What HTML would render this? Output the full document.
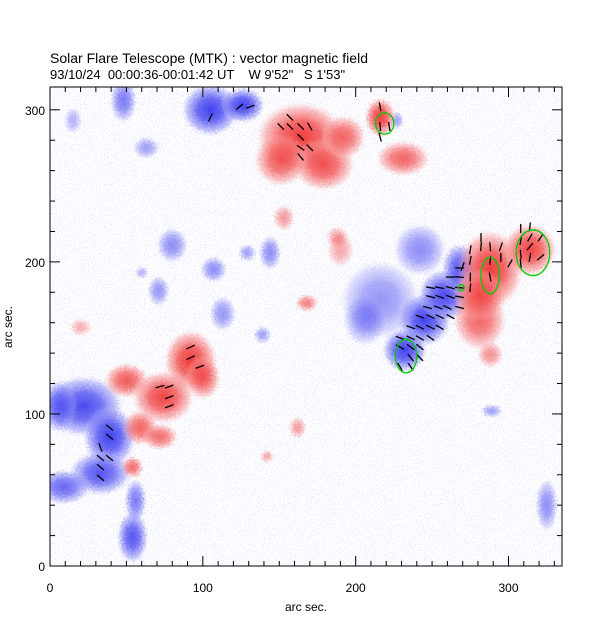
<!DOCTYPE html>
<html><head><meta charset="utf-8"><style>
body{margin:0;background:#fff;}
svg text{font-family:"Liberation Sans",sans-serif;fill:#000;}
</style></head><body>
<svg id="chart" width="612" height="617" xmlns="http://www.w3.org/2000/svg">
<defs>
<radialGradient id="gr"><stop offset="0" stop-color="#f03a3a"/><stop offset="0.45" stop-color="#f25858" stop-opacity="0.9"/><stop offset="0.8" stop-color="#f79090" stop-opacity="0.55"/><stop offset="1" stop-color="#fcc" stop-opacity="0"/></radialGradient>
<radialGradient id="gb"><stop offset="0" stop-color="#4040f0"/><stop offset="0.45" stop-color="#5c5cf2" stop-opacity="0.9"/><stop offset="0.8" stop-color="#9090f7" stop-opacity="0.55"/><stop offset="1" stop-color="#ccf" stop-opacity="0"/></radialGradient>
<filter id="noise" x="0" y="0" width="1" height="1">
<feTurbulence type="fractalNoise" baseFrequency="0.9" numOctaves="1" seed="3"/>
<feColorMatrix type="matrix" values="0 0 0 0 0.7  0 0 0 0 0.7  0 0 0 0 1  10 0 0 0 -5.3"/>
</filter>
<filter id="rough" x="-5%" y="-5%" width="110%" height="110%">
<feTurbulence type="fractalNoise" baseFrequency="0.6" numOctaves="2" seed="7" result="t"/>
<feDisplacementMap in="SourceGraphic" in2="t" scale="8" xChannelSelector="R" yChannelSelector="G"/>
</filter>
<clipPath id="clip"><rect x="50" y="87" width="512" height="479"/></clipPath>
</defs>
<text x="50" y="63" font-size="14">Solar Flare Telescope (MTK) : vector magnetic field</text>
<text x="50" y="79" font-size="13" xml:space="preserve">93/10/24  00:00:36-00:01:42 UT    W 9'52"   S 1'53"</text>
<g id="plot" clip-path="url(#clip)">
<rect x="50" y="87" width="512" height="479" fill="#fff" filter="url(#noise)" opacity="0.55"/>
<g id="blobs" filter="url(#rough)"></g>
<g id="vectors"></g>
<g id="contours"></g>
</g>
<rect x="50" y="87" width="512" height="479" fill="none" stroke="#000" stroke-width="1"/>
<g id="axes"></g>
<text x="306" y="611" font-size="12" text-anchor="middle">arc sec.</text>
<text transform="translate(12,327) rotate(-90)" font-size="12" text-anchor="middle">arc sec.</text>
</svg>
<script>
// data (arc sec)
const redX=[164,179,151,192,231,216,288,314,281,281,288,190,92,50,74,100,59,72,54,153,188,168,20,162,142];
const redY=[282,264,267,282,268,295,195,208,162,178,139,208,135,122,111,124,91,85,65,229,216,173,157,91,72];
const redRX=[20,14,12,10,12,7,15,12,12,12,6,6,12,10,14,8,8,8,5,5,5,5,5,4,3];
const redRY=[16,12,12,10,8,9,18,12,14,12,6,8,14,8,12,10,8,6,5,6,5,4,4,5,3];
const redI=[1,0.9,0.85,0.8,0.8,1,1,0.95,0.8,0.9,0.55,0.45,1,0.85,0.95,0.85,0.8,0.75,0.75,0.5,0.5,0.65,0.4,0.5,0.45];
const blueX=[105,126,48,63,15,227,232,245,258,268,216,242,206,22,39,33,9,6,54,56,80,107,71,113,144,129,139,60,289,325];
const blueY=[300,303,306,275,293,293,142,162,178,195,175,208,162,105,85,61,52,105,19,43,211,195,181,166,206,206,152,193,102,40];
const blueRX=[13,10,6,6,4,3,10,12,12,8,18,12,10,18,12,14,12,8,7,5,7,6,5,6,5,4,4,3,5,5];
const blueRY=[12,8,10,5,6,4,10,12,12,12,18,12,12,14,14,10,8,12,12,10,8,6,7,8,8,4,4,3,3,12];
const blueI=[1,1,0.7,0.5,0.4,0.5,1,1,0.95,0.9,0.55,0.6,0.55,0.95,1,0.9,0.8,0.8,0.9,0.7,0.6,0.6,0.55,0.55,0.6,0.5,0.5,0.4,0.5,0.6];
const vecX=[268,262,268,249,255,262,268,249,255,262,268,247,254,260,268,242,249,255,262,236,242,249,255,229,236,242,249,229,236,242,236,242,229,236,
 282,275,282,288,295,308,314,308,314,321,275,288,295,301,308,314,270,275,288,275,308,321,314,
 39,39,33,33,39,33,33, 92,92,98,72,78,78,78,
 157,151,157,164,170,164,164,170,164,216,216,216,222, 105,124,131];
const vecY=[196,190,190,183,183,183,183,177,177,177,177,170,170,170,170,164,164,164,164,157,157,157,157,150,150,150,150,144,144,144,137,137,131,131,
 216,208,210,210,210,222,223,214,216,216,201,201,203,199,205,210,197,190,190,183,199,203,203,
 91,85,78,71,71,65,58, 144,137,131,118,118,111,105,
 295,289,289,289,289,282,275,275,269,302,289,282,289, 295,302,302];
const vecA=[0,0,-5,-10,-10,-15,-5,-15,-20,-20,-10,-15,-20,-25,-15,-20,-25,-25,-30,-20,-25,-25,-30,-20,-25,-30,-35,-30,-35,-40,-50,-45,-60,-55,
 90,80,85,95,70,90,85,80,60,55,80,85,90,60,95,50,70,90,100,85,95,40,80,
 -40,-40,-70,-40,-40,-40,-40, 25,25,20,15,20,20,20,
 -45,-45,-45,-45,-60,-45,-35,-45,-50,-80,-85,-75,-80, 65,40,20];
const contX=[219,233,288,316,269];
const contY=[291,138,191,206,183];
const contRX=[6,7,6,11,2];
const contRY=[7,11,12,15,2];
const xTicks=[0,100,200,300];
const yTicks=[0,100,200,300];
const X0=50,X1=562,Y0=566,Y1=87,XMAX=335,YMAX=315;
function sx(v){return X0+v*(X1-X0)/XMAX;}
function sy(v){return Y0-v*(Y0-Y1)/YMAX;}
const kx=(X1-X0)/XMAX, ky=(Y0-Y1)/YMAX;
const NS='http://www.w3.org/2000/svg';
function mk(t,a,p){const e=document.createElementNS(NS,t);for(const k in a)e.setAttribute(k,a[k]);p.appendChild(e);return e;}
const blobs=document.getElementById('blobs');
for(let i=0;i<blueX.length;i++){
 const e=mk('ellipse',{cx:sx(blueX[i]),cy:sy(blueY[i]),rx:blueRX[i]*kx*1.45,ry:blueRY[i]*ky*1.45,fill:'url(#gb)',opacity:blueI[i]},blobs);
 
 
}
for(let i=0;i<redX.length;i++){
 const e=mk('ellipse',{cx:sx(redX[i]),cy:sy(redY[i]),rx:redRX[i]*kx*1.45,ry:redRY[i]*ky*1.45,fill:'url(#gr)',opacity:redI[i]},blobs);
 
 
}
const vg=document.getElementById('vectors');
for(let i=0;i<vecX.length;i++){
 const a=vecA[i]*Math.PI/180,L=4.5,cx=sx(vecX[i]),cy=sy(vecY[i]);
 const e=mk('line',{x1:cx-L*Math.cos(a),y1:cy+L*Math.sin(a),x2:cx+L*Math.cos(a),y2:cy-L*Math.sin(a),stroke:'#000','stroke-width':1.3},vg);
 
 
}
const cg=document.getElementById('contours');
for(let i=0;i<contX.length;i++){
 const e=mk('ellipse',{cx:sx(contX[i]),cy:sy(contY[i]),rx:contRX[i]*kx,ry:contRY[i]*ky,fill:'none',stroke:'#0c0','stroke-width':1.3},cg);
 
 
}
const ax=document.getElementById('axes');
for(let v=0;v<=XMAX;v+=10){
 const big=v%100===0,L=big?10:5,x=sx(v);
 mk('line',{x1:x,y1:Y0,x2:x,y2:Y0-L,stroke:'#000'},ax);
 mk('line',{x1:x,y1:Y1,x2:x,y2:Y1+L,stroke:'#000'},ax);
}
for(let v=0;v<=YMAX;v+=20){
 const big=v%100===0,L=big?10:5,y=sy(v);
 mk('line',{x1:X0,y1:y,x2:X0+L,y2:y,stroke:'#000'},ax);
 mk('line',{x1:X1,y1:y,x2:X1-L,y2:y,stroke:'#000'},ax);
}
xTicks.forEach(v=>{const t=mk('text',{x:sx(v),y:592,'font-size':12,'text-anchor':'middle'},ax);t.textContent=v;
 
 });
yTicks.forEach(v=>{const t=mk('text',{x:45,y:sy(v)+5,'font-size':12,'text-anchor':'end'},ax);t.textContent=v;
 
 });
</script>
</body></html>
